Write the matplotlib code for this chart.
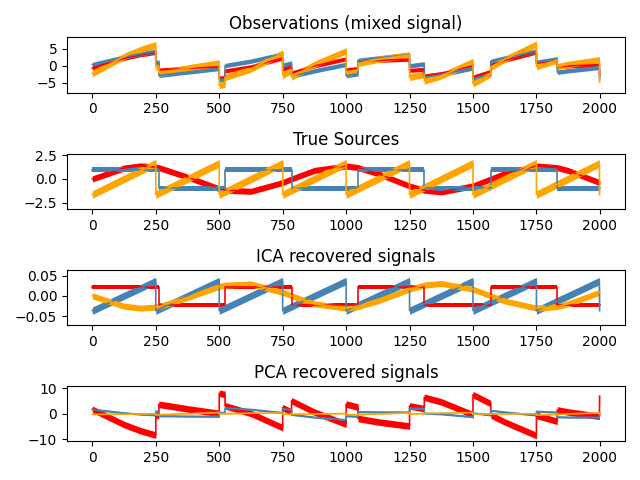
import numpy as np
import matplotlib.pyplot as plt

# sample positions of the points (a repeated position is a jump)
sample_idx = [0, 125, 190, 250, 250, 262, 262, 375, 500, 500, 523, 523, 625,
              750, 750, 785, 785, 875, 1000, 1000, 1047, 1047, 1125, 1250, 1250,
              1308, 1308, 1375, 1500, 1500, 1570, 1570, 1625, 1750, 1750, 1832,
              1832, 1875, 1998, 1999]

# Observations (mixed signal)
obs_red = [-0.66, 2.12, 3.19, 3.86, 0.58, 0.68, -1.28, -0.79, -0.37, -3.65, -3.50, -1.54, -0.32,
           2.24, -1.04, -0.20, -2.16, -0.09, 2.01, -1.27, -0.82, 1.14, 1.54, 1.88, -1.40,
           -1.08, -3.04, -2.34, -0.07, -3.35, -1.70, 0.26, 1.55, 3.97, 0.69, 1.60,
           -0.36, -0.10, 0.27, -3.01]
obs_blue = [0.32, 2.53, 3.49, 4.22, 0.94, 1.07, -2.85, -1.87, -0.84, -4.12, -3.89, 0.03, 1.31,
            3.41, 0.13, 0.78, -3.14, -1.52, 0.36, -2.93, -2.39, 1.53, 2.24, 3.23, -0.05,
            0.49, -3.43, -2.64, -0.69, -3.97, -2.68, 1.24, 2.25, 4.28, 1.00, 1.99,
            -1.93, -1.52, -0.52, -3.80]
obs_orange = [-2.30, 2.69, 4.72, 6.12, -0.44, -0.21, -2.17, -0.70, 0.76, -5.81, -5.43, -3.47, -0.97,
              3.69, -2.87, -1.38, -3.34, 0.36, 4.33, -2.24, -1.25, 0.71, 1.82, 3.15, -3.41,
              -2.55, -4.51, -3.02, 1.21, -5.36, -2.42, -0.46, 1.84, 6.29, -0.28, 1.63,
              -0.33, 0.34, 1.71, -4.85]

# True Sources
true_red = [0.00, 1.14, 1.36, 1.24, 1.24, 1.18, 1.18, 0.19, -1.03, -1.03, -1.18, -1.18, -1.30,
            -0.38, -0.38, 0.00, 0.00, 0.89, 1.35, 1.35, 1.18, 1.18, 0.56, -0.74, -0.74,
            -1.18, -1.18, -1.36, -0.73, -0.73, 0.00, 0.00, 0.57, 1.35, 1.35, 1.18,
            1.18, 0.88, -0.38, -0.39]
true_blue = [0.98, 0.98, 0.98, 0.98, 0.98, 0.98, -0.98, -0.98, -0.98, -0.98, -0.98, 0.98, 0.98,
             0.98, 0.98, 0.98, -0.98, -0.98, -0.98, -0.98, -0.98, 0.98, 0.98, 0.98, 0.98,
             0.98, -0.98, -0.98, -0.98, -0.98, -0.98, 0.98, 0.98, 0.98, 0.98, 0.98,
             -0.98, -0.98, -0.98, -0.98]
true_orange = [-1.64, 0.00, 0.85, 1.64, -1.64, -1.48, -1.48, 0.00, 1.64, -1.64, -1.34, -1.34, 0.00,
               1.64, -1.64, -1.18, -1.18, 0.00, 1.64, -1.64, -1.02, -1.02, 0.00, 1.64, -1.64,
               -0.88, -0.88, 0.00, 1.64, -1.64, -0.72, -0.72, 0.00, 1.64, -1.64, -0.56,
               -0.56, 0.00, 1.63, -1.64]

# ICA recovered signals
ica_red = [0.022, 0.022, 0.022, 0.022, 0.022, 0.022, -0.022, -0.022, -0.022, -0.022, -0.022, 0.022, 0.022,
           0.022, 0.022, 0.022, -0.022, -0.022, -0.022, -0.022, -0.022, 0.022, 0.022, 0.022, 0.022,
           0.022, -0.022, -0.022, -0.022, -0.022, -0.022, 0.022, 0.022, 0.022, 0.022, 0.022,
           -0.022, -0.022, -0.022, -0.022]
ica_blue = [-0.0367, 0.0, 0.0190, 0.0367, -0.0367, -0.0331, -0.0331, 0.0, 0.0367, -0.0367, -0.0300, -0.0300, 0.0,
            0.0367, -0.0367, -0.0264, -0.0264, 0.0, 0.0367, -0.0367, -0.0228, -0.0228, 0.0, 0.0367, -0.0367,
            -0.0197, -0.0197, 0.0, 0.0367, -0.0367, -0.0161, -0.0161, 0.0, 0.0367, -0.0367, -0.0125,
            -0.0125, 0.0, 0.0364, -0.0367]
ica_orange = [0.0, -0.0255, -0.0304, -0.0277, -0.0277, -0.0264, -0.0264, -0.0042, 0.0230, 0.0230, 0.0264, 0.0264, 0.0291,
              0.0085, 0.0085, 0.0, 0.0, -0.0199, -0.0302, -0.0302, -0.0264, -0.0264, -0.0125, 0.0165, 0.0165,
              0.0264, 0.0264, 0.0304, 0.0163, 0.0163, 0.0, 0.0, -0.0127, -0.0302, -0.0302, -0.0264,
              -0.0264, -0.0197, 0.0085, 0.0087]

# PCA recovered signals
pca_red = [1.72, -4.24, -6.68, -8.36, -0.48, -0.76, 3.68, 1.88, 0.11, 7.99, 7.53, 3.09, 0.09,
           -5.48, 2.39, 0.61, 5.05, 0.64, -4.12, 3.76, 2.57, -1.87, -3.21, -4.84, 3.03,
           1.99, 6.43, 4.64, -0.42, 7.45, 3.95, -0.49, -3.23, -8.56, -0.68, -2.97,
           1.47, 0.66, -1.02, 6.85]
pca_blue = [1.67, 0.27, -0.25, -0.55, 0.97, 0.93, -0.89, -1.02, -1.09, 0.43, 0.38, 2.20, 1.65,
            0.37, 1.89, 1.46, -0.37, -1.42, -2.44, -0.92, -1.11, 0.72, 0.60, 0.57, 2.09,
            1.99, 0.16, -0.14, -1.26, 0.26, -0.58, 1.25, 0.59, -0.61, 0.91, 0.51,
            -1.32, -1.41, -1.45, 0.07]
pca_orange = [-0.27, -0.22, -0.13, 0.01, -0.48, -0.45, -0.39, 0.00, 0.45, -0.05, 0.02, -0.03, 0.19,
              0.28, -0.21, -0.21, -0.15, -0.12, 0.05, -0.44, -0.32, -0.38, -0.12, 0.34, -0.15,
              0.04, 0.09, 0.25, 0.40, -0.10, -0.08, -0.14, -0.12, -0.01, -0.50, -0.31,
              -0.25, -0.12, 0.34, -0.15]

names = ["Observations (mixed signal)", "True Sources",
         "ICA recovered signals", "PCA recovered signals"]
models = [[obs_red, obs_blue, obs_orange],
          [true_red, true_blue, true_orange],
          [ica_red, ica_blue, ica_orange],
          [pca_red, pca_blue, pca_orange]]
colors = ["red", "steelblue", "orange"]

# half height of the noisy band around each signal (style only)
band = [[0.6, 0.65, 0.95], [0.32, 0.25, 0.4], [0.0053, 0.009, 0.0075], [1.3, 0.35, 0.08]]
ylims = [(-7.9, 8.3), (-3.13, 2.65), (-0.072, 0.064), (-10.8, 10.8)]

x = np.array(sample_idx)
fig = plt.figure(figsize=(6.4, 4.8), dpi=100)
for ii, (model, name) in enumerate(zip(models, names), 1):
    ax = plt.subplot(4, 1, ii)
    plt.title(name)
    for sig, color, w in zip(model, colors, band[ii - 1]):
        y = np.array(sig)
        ax.fill_between(x, y - w, y + w, color=color, lw=0)
        ax.plot(x, y, color=color, lw=1.2)
    ax.set_xlim(-100, 2099)
    ax.set_ylim(*ylims[ii - 1])

plt.tight_layout()
plt.savefig("out.png", dpi=100)
